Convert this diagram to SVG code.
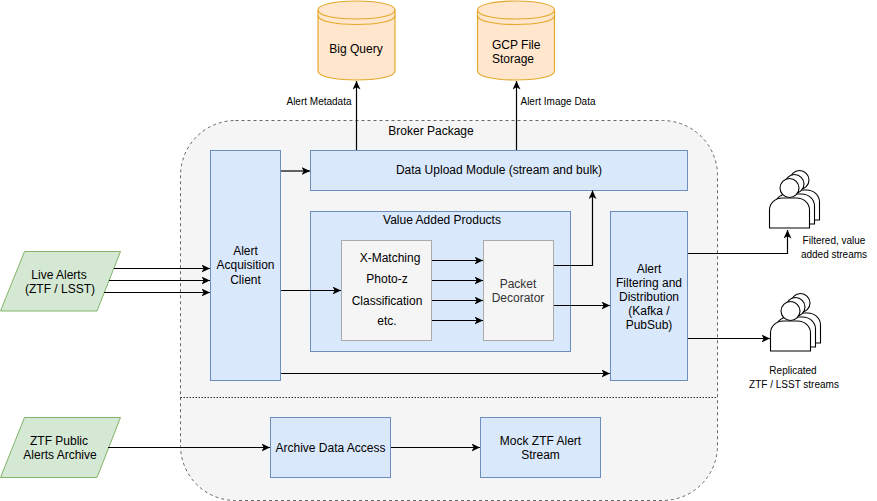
<svg xmlns="http://www.w3.org/2000/svg" width="877" height="501" viewBox="0 0 877 501">
<style>
text{font-family:"Liberation Sans",Arial,Helvetica,sans-serif;font-size:12px;fill:#000;text-anchor:middle}
.s{font-size:10px}
.st{text-anchor:start}
.blue{fill:#dae8fc;stroke:#6c8ebf;stroke-width:1}
.grey{fill:#f5f5f5;stroke:#aaa;stroke-width:1}
.green{fill:#d5e8d4;stroke:#82b366;stroke-width:1}
.cyl{fill:#ffe6cc;stroke:#e3a92c;stroke-width:1.2}
.ring{fill:none;stroke:#e3a92c;stroke-width:1.2}
.line{fill:none;stroke:#000;stroke-width:1.2}
.usr{fill:#fff;stroke:#000;stroke-width:1.1}
</style>
<defs>
<marker id="arr" markerUnits="userSpaceOnUse" markerWidth="10" markerHeight="10" refX="8.5" refY="4" orient="auto">
<path d="M0 0L8.500 4L0 8L2.200 4Z" fill="#000"/>
</marker>
<g id="person">
<path class="usr" d="M0 50V32C0 25 6 20 13 20H27C34 20 40 25 40 32V50Z"/>
<circle class="usr" cx="20" cy="10" r="9.500"/>
</g>
<g id="crowd">
<use href="#person" x="10" y="-8"/>
<use href="#person" x="5" y="-4"/>
<use href="#person"/>
</g>
<g id="drum">
<path class="cyl" d="M0 10C0 -2 77 -2 77 10V71C77 83 0 83 0 71Z"/>
<path class="ring" d="M0 10C0 22 77 22 77 10M0 15.500C0 27.500 77 27.500 77 15.500"/>
</g>
</defs>
<g id="package">
<rect x="180.500" y="120.500" width="537" height="380" rx="55" ry="55" fill="#f5f5f5" stroke="#666" stroke-dasharray="3 3"/>
<path d="M180.500 397.500H717.500" fill="none" stroke="#333" stroke-dasharray="1.500 1.500"/>
<text x="431" y="135">Broker Package</text>
</g>
<g id="big-query">
<use href="#drum" x="318"/>
<text x="356" y="53">Big Query</text>
</g>
<g id="gcp-storage">
<use href="#drum" x="477.500"/>
<text class="st" x="492" y="49">GCP File</text>
<text class="st" x="492" y="63">Storage</text>
</g>
<g id="acquisition">
<rect class="blue" x="210.500" y="150.500" width="70" height="230"/>
<text x="245.500" y="255">Alert</text>
<text x="245.500" y="269">Acquisition</text>
<text x="245.500" y="284">Client</text>
</g>
<g id="upload">
<rect class="blue" x="310.500" y="150.500" width="377" height="40"/>
<text x="499" y="174">Data Upload Module (stream and bulk)</text>
</g>
<g id="value-added">
<rect class="blue" x="310.500" y="211.500" width="260" height="140"/>
<text x="442" y="224">Value Added Products</text>
</g>
<g id="matching">
<rect class="grey" x="341.500" y="240.500" width="90" height="100"/>
<text x="390" y="262">X-Matching</text>
<text x="387" y="283">Photo-z</text>
<text x="387" y="305">Classification</text>
<text x="387" y="325">etc.</text>
</g>
<g id="decorator">
<rect class="grey" x="483.500" y="240.500" width="70" height="100"/>
<text x="518" y="288" style="fill:#333">Packet</text>
<text x="518" y="302" style="fill:#333">Decorator</text>
</g>
<g id="filtering">
<rect class="blue" x="610.500" y="211.500" width="77" height="169"/>
<text x="649" y="273">Alert</text>
<text x="649" y="287">Filtering and</text>
<text x="649" y="301">Distribution</text>
<text x="649" y="315">(Kafka /</text>
<text x="649" y="329">PubSub)</text>
</g>
<g id="archive-access">
<rect class="blue" x="270.500" y="417.500" width="120" height="60"/>
<text x="330.500" y="452">Archive Data Access</text>
</g>
<g id="mock-stream">
<rect class="blue" x="480.500" y="417.500" width="120" height="60"/>
<text x="540.500" y="445">Mock ZTF Alert</text>
<text x="540.500" y="459">Stream</text>
</g>
<g id="live-alerts">
<path class="green" d="M0.500 311L24.500 251.500H120.500L97 311Z"/>
<text x="59" y="279">Live Alerts</text>
<text x="60" y="293">(ZTF / LSST)</text>
</g>
<g id="archive">
<path class="green" d="M0.500 477.500L24.500 417.500H120.500L97 477.500Z"/>
<text x="59" y="445">ZTF Public</text>
<text x="60" y="459">Alerts Archive</text>
</g>
<g id="consumers-filtered">
<use href="#crowd" x="769.500" y="178"/>
<text class="s" x="834" y="244">Filtered, value</text>
<text class="s" x="834" y="258">added streams</text>
</g>
<g id="consumers-replicated">
<use href="#crowd" x="770.500" y="301"/>
<text class="s" x="793" y="374">Replicated</text>
<text class="s" x="794" y="388">ZTF / LSST streams</text>
</g>
<g id="connectors" class="line" marker-end="url(#arr)">
<path d="M356.500 150V81"/>
<path d="M516.500 150V81"/>
<path d="M281 171H310"/>
<path d="M114 268.500H210"/>
<path d="M109 280.500H210"/>
<path d="M104 292.500H210"/>
<path d="M281 290.500H341"/>
<path d="M281 373.500H610"/>
<path d="M432 260.500H483"/>
<path d="M432 280.500H483"/>
<path d="M432 300.500H483"/>
<path d="M432 320.500H483"/>
<path d="M554 265.500H592.500V190.500"/>
<path d="M554 305.500H610"/>
<path d="M688 253.500H787.500V230"/>
<path d="M688 338.500H770"/>
<path d="M108 447.500H270"/>
<path d="M391 447.500H480"/>
</g>
<g id="edge-labels">
<text class="s" x="319" y="105">Alert Metadata</text>
<text class="s" x="558" y="105">Alert Image Data</text>
</g>
</svg>
